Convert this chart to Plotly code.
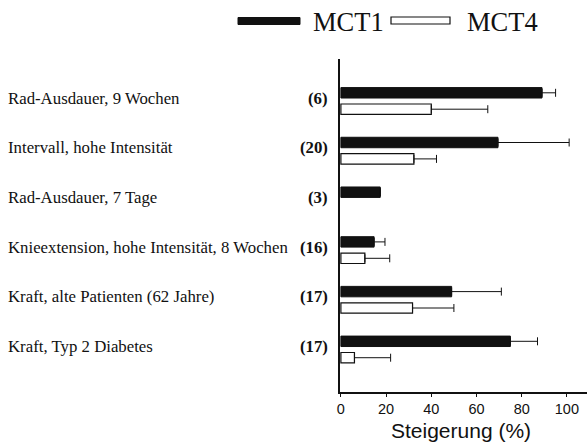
import plotly.graph_objects as go
import numpy as np

categories = [
    "Rad-Ausdauer, 9 Wochen",
    "Intervall, hohe Intensität",
    "Rad-Ausdauer, 7 Tage",
    "Knieextension, hohe Intensität, 8 Wochen",
    "Kraft, alte Patienten (62 Jahre)",
    "Kraft, Typ 2 Diabetes",
]
counts = ["(6)", "(20)", "(3)", "(16)", "(17)", "(17)"]
mct1 = [89, 69.5, 17.4, 14.7, 49, 75]
mct1_err = [6, 31.5, None, 4.8, 22, 12]
mct4 = [40, 32.3, None, 10.6, 31.7, 6]
mct4_err = [25, 10, None, 11, 18.3, 16]
xticks = [0, 20, 40, 60, 80, 100]

W, H = 587, 447
L, R, T, B = 340, 0, 59, 55
pw, ph = W - L - R, H - T - B

def px(xp):
    return (xp - L) / pw

def py(yp):
    return (H - B - yp) / ph

idx = np.arange(len(categories))
off = 0.165
bw = 0.21

def arr(v):
    return [np.nan if a is None else a for a in v]

fig = go.Figure()
fig.add_trace(go.Bar(
    orientation="h", y=idx - off, x=arr(mct1), width=bw,
    marker=dict(color="#111111", line=dict(color="#111111", width=1)),
    error_x=dict(type="data", array=arr(mct1_err), arrayminus=[0] * len(mct1),
                 symmetric=False, color="#111111", thickness=1, width=4),
    name="MCT1", showlegend=False,
))
fig.add_trace(go.Bar(
    orientation="h", y=idx + off, x=arr(mct4), width=bw,
    marker=dict(color="white", line=dict(color="#111111", width=1.2)),
    error_x=dict(type="data", array=arr(mct4_err), arrayminus=[0] * len(mct4),
                 symmetric=False, color="#111111", thickness=1, width=4),
    name="MCT4", showlegend=False,
))

lab_font = dict(family="Liberation Serif", size=16.8, color="#111")
ann = []
for i, (c, n) in enumerate(zip(categories, counts)):
    ann.append(dict(x=px(6), y=i - 0.06, xref="paper", yref="y", text=c,
                    showarrow=False, xanchor="left", yanchor="middle", font=lab_font))
    ann.append(dict(x=px(330), y=i - 0.06, xref="paper", yref="y", text="<b>%s</b>" % n,
                    showarrow=False, xanchor="right", yanchor="middle", font=lab_font))

# legend
ann.append(dict(x=px(311), y=py(22), xref="paper", yref="paper", text="MCT1",
                showarrow=False, xanchor="left", yanchor="middle",
                font=dict(family="Liberation Serif", size=26.5, color="#111")))
ann.append(dict(x=px(465), y=py(22), xref="paper", yref="paper", text="MCT4",
                showarrow=False, xanchor="left", yanchor="middle",
                font=dict(family="Liberation Serif", size=26.5, color="#111")))
shapes = [
    dict(type="rect", xref="paper", yref="paper", x0=px(238), x1=px(300),
         y0=py(24.5), y1=py(17.5), fillcolor="#111", line=dict(color="#111", width=1)),
    dict(type="rect", xref="paper", yref="paper", x0=px(391), x1=px(450),
         y0=py(24), y1=py(17), fillcolor="white", line=dict(color="#111", width=1.2)),
]
# axis title
ann.append(dict(x=px(461), y=py(430.5), xref="paper", yref="paper", text="Steigerung (%)",
                showarrow=False, xanchor="center", yanchor="middle",
                font=dict(family="Liberation Sans", size=21, color="#111")))

fig.update_layout(
    width=W, height=H,
    margin=dict(l=L, r=R, t=T, b=B),
    plot_bgcolor="white", paper_bgcolor="white",
    barmode="overlay",
    annotations=ann, shapes=shapes,
    xaxis=dict(range=[-0.4, 108.9], tickvals=xticks, ticktext=[str(t) for t in xticks],
               showgrid=False, zeroline=False, showline=True, linecolor="#111", linewidth=1.5,
               ticks="outside", ticklen=3, tickcolor="#111", tickwidth=1,
               tickfont=dict(family="Liberation Sans", size=14.5, color="#111")),
    yaxis=dict(range=[5.855, -0.845], showgrid=False, zeroline=False, showline=True,
               linecolor="#111", linewidth=1.5, showticklabels=False, ticks=""),
)

fig.write_html("out.html", config={"displayModeBar": False},
               post_script="document.body.style.margin='0';document.body.style.overflow='hidden';")
